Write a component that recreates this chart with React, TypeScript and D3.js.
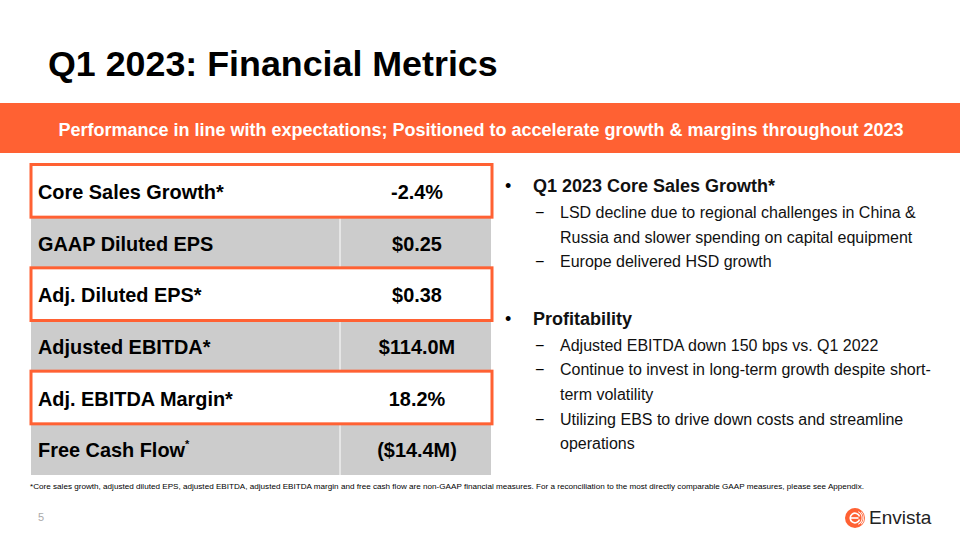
import React from "react";
import * as d3 from "d3";

const metricLabels = ["Core Sales Growth*", "GAAP Diluted EPS", "Adj. Diluted EPS*", "Adjusted EBITDA*", "Adj. EBITDA Margin*", "Free Cash Flow"];
const metricValues = ["-2.4%", "$0.25", "$0.38", "$114.0M", "18.2%", "($14.4M)"];
const highlighted = [true, false, true, false, true, false];

const bulletHeads = ["Q1 2023 Core Sales Growth*", "Profitability"];
const bulletSubs: string[][][] = [
  [["LSD decline due to regional challenges in China &", "Russia and slower spending on capital equipment"], ["Europe delivered HSD growth"]],
  [["Adjusted EBITDA down 150 bps vs. Q1 2022"], ["Continue to invest in long-term growth despite short-", "term volatility"], ["Utilizing EBS to drive down costs and streamline", "operations"]],
];

const ORANGE = "#FF6133";
const FONT = "'Liberation Sans', Arial, sans-serif";

export default function App() {
  const W = 960, H = 540;
  const y = d3.scaleBand<number>().domain(d3.range(metricLabels.length)).range([165, 475]).padding(0);
  const tx0 = 31, tx1 = 491, colSplit = 340;

  const lines: { x: number; y: number; text: string; bold: boolean; bullet?: string; size: number }[] = [];
  let cy = 192;
  bulletHeads.forEach((h, i) => {
    lines.push({ x: 533, y: cy, text: h, bold: true, bullet: "•", size: 18 });
    cy += 26;
    bulletSubs[i].forEach((sub) => {
      sub.forEach((t, j) => {
        lines.push({ x: 560, y: cy, text: t, bold: false, bullet: j === 0 ? "−" : undefined, size: 16 });
        cy += 24.6;
      });
    });
    cy += 33;
  });

  const arc = d3.arc();
  const ring = (r0: number, r1: number, a0: number, a1: number) =>
    arc({ innerRadius: r0, outerRadius: r1, startAngle: a0, endAngle: a1 }) || "";

  return (
    <svg width={W} height={H} style={{ position: "absolute", left: 0, top: 0 }} fontFamily={FONT}>
      <rect width={W} height={H} fill="#fff" />
      <text x={48} y={76} fontSize={35.8} fontWeight="bold" fill="#000">Q1 2023: Financial Metrics</text>
      <rect x={0} y={103} width={W} height={50} fill={ORANGE} />
      <text x={481} y={136} fontSize={18} fontWeight="bold" fill="#fff" textAnchor="middle">Performance in line with expectations; Positioned to accelerate growth &amp; margins throughout 2023</text>

      {metricLabels.map((lab, i) => {
        const y0 = y(i)!, h = y.bandwidth();
        return (
          <g key={i}>
            <rect x={tx0} y={y0} width={tx1 - tx0} height={h} fill={highlighted[i] ? "#fff" : "#CCCCCC"} />
            {!highlighted[i] && <line x1={colSplit} x2={colSplit} y1={y0} y2={y0 + h} stroke="#fff" strokeWidth={1} />}
            <text x={38} y={y0 + h / 2 + 8} fontSize={19.9} fontWeight="bold" fill="#000">
              {lab}
              {i === metricLabels.length - 1 && <tspan fontSize={11} dy={-9}>*</tspan>}
            </text>
            <text x={417} y={y0 + h / 2 + 8} fontSize={19.9} fontWeight="bold" fill="#000" textAnchor="middle">{metricValues[i]}</text>
          </g>
        );
      })}
      {metricLabels.map((_, i) => highlighted[i] ? (
        <rect key={"h" + i} x={tx0} y={y(i)! - 0.5} width={tx1 - tx0 + 1} height={y.bandwidth() + 1} fill="none" stroke={ORANGE} strokeWidth={3} />
      ) : null)}

      {lines.map((l, i) => (
        <g key={"l" + i}>
          {l.bullet && <text x={l.bold ? 505 : 535} y={l.y} fontSize={l.bold ? 18 : 16} fill="#000">{l.bullet}</text>}
          <text x={l.x} y={l.y} fontSize={l.size} fontWeight={l.bold ? "bold" : "normal"} fill="#111">{l.text}</text>
        </g>
      ))}

      <text x={30} y={489} fontSize={8.1} fill="#000" textLength={834} lengthAdjust="spacingAndGlyphs">*Core sales growth, adjusted diluted EPS, adjusted EBITDA, adjusted EBITDA margin and free cash flow are non-GAAP financial measures. For a reconciliation to the most directly comparable GAAP measures, please see Appendix.</text>
      <text x={38} y={521} fontSize={11} fill="#aaa">5</text>

      <g transform="translate(855,518)">
        <circle r={10} fill={ORANGE} />
        <path d={ring(4, 5.6, Math.PI * 0.6, Math.PI * 2.4)} fill="#fff" />
        <rect x={-4.5} y={-0.8} width={8} height={1.6} fill="#fff" />
        <path d={ring(6.6, 7.6, Math.PI * 0.15, Math.PI * 0.85)} fill="#fff" />
        <path d={ring(8.4, 9.2, Math.PI * 0.25, Math.PI * 0.75)} fill="#fff" />
      </g>
      <text x={869} y={524} fontSize={19} fill="#222">Envista</text>
    </svg>
  );
}
